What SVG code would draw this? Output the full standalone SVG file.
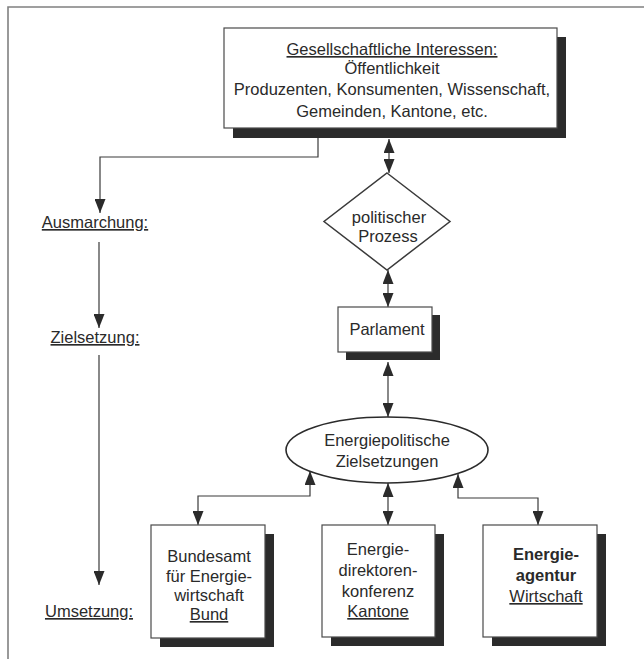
<svg xmlns="http://www.w3.org/2000/svg" width="644" height="659" viewBox="0 0 644 659">
<defs>
<style>
.t{font-family:"Liberation Sans",Arial,sans-serif;font-size:16.5px;fill:#2a2a2a;text-anchor:middle}
.b{font-weight:bold}
.u{text-decoration:underline}
.box{fill:#fff;stroke:#4a4a4a;stroke-width:1.2}
.sh{fill:#2b2b2b}
.ln{fill:none;stroke:#3a3a3a;stroke-width:1.2}
</style>
<marker id="ah" markerUnits="userSpaceOnUse" markerWidth="14" markerHeight="11" refX="14" refY="5.5" orient="auto-start-reverse">
<path d="M0,0 L14,5.5 L0,11 z" fill="#2b2b2b"/>
</marker>
</defs>
<rect width="644" height="659" fill="#fff"/>
<path d="M8,659 V7 H644" fill="none" stroke="#808080" stroke-width="1.6"/>

<g id="connectors">
<polyline class="ln" points="318,138 318,157 100,157 100,213" marker-end="url(#ah)"/>
<line class="ln" x1="99" y1="242" x2="99" y2="328" marker-end="url(#ah)"/>
<line class="ln" x1="99" y1="355" x2="99" y2="585" marker-end="url(#ah)"/>
<line class="ln" x1="389" y1="139" x2="389" y2="173" marker-start="url(#ah)" marker-end="url(#ah)"/>
<line class="ln" x1="388" y1="270" x2="388" y2="307" marker-start="url(#ah)" marker-end="url(#ah)"/>
<line class="ln" x1="388" y1="362" x2="388" y2="417" marker-start="url(#ah)" marker-end="url(#ah)"/>
<line class="ln" x1="388" y1="483" x2="388" y2="525" marker-start="url(#ah)" marker-end="url(#ah)"/>
<polyline class="ln" points="310,471 310,496 198,496 198,525" marker-start="url(#ah)" marker-end="url(#ah)"/>
<polyline class="ln" points="458,474 458,498 538,498 538,525" marker-start="url(#ah)" marker-end="url(#ah)"/>
</g>

<g id="gesellschaft">
<rect class="sh" x="233" y="37" width="333" height="101"/>
<rect class="box" x="224" y="28" width="333" height="100"/>
<text class="t u" x="392" y="55">Gesellschaftliche Interessen:</text>
<text class="t" x="392" y="74">Öffentlichkeit</text>
<text class="t" x="392" y="95">Produzenten, Konsumenten, Wissenschaft,</text>
<text class="t" x="392" y="117">Gemeinden, Kantone, etc.</text>
</g>

<g id="ausmarchung"><text class="t u" x="95" y="228">Ausmarchung:</text></g>
<g id="zielsetzung"><text class="t u" x="95" y="343">Zielsetzung:</text></g>
<g id="umsetzung"><text class="t u" x="89" y="617">Umsetzung:</text></g>

<g id="prozess">
<polygon points="387,173 450,221.5 387,270 324,221.5" fill="#fff" stroke="#3a3a3a" stroke-width="1.5"/>
<text class="t" x="389" y="223">politischer</text>
<text class="t" x="388" y="242">Prozess</text>
</g>

<g id="parlament">
<rect class="sh" x="346" y="315" width="94" height="45"/>
<rect class="box" x="338" y="307" width="94" height="45"/>
<text class="t" x="387" y="335">Parlament</text>
</g>

<g id="ziele">
<ellipse cx="387" cy="450" rx="101" ry="33" fill="#fff" stroke="#2b2b2b" stroke-width="1.6"/>
<text class="t" x="387" y="446">Energiepolitische</text>
<text class="t" x="387" y="467">Zielsetzungen</text>
</g>

<g id="bundesamt">
<rect class="sh" x="160" y="534" width="114" height="113"/>
<rect class="box" x="151" y="525" width="114" height="113"/>
<text class="t" x="209" y="562">Bundesamt</text>
<text class="t" x="209" y="582">für Energie-</text>
<text class="t" x="209" y="601">wirtschaft</text>
<text class="t u" x="209" y="620">Bund</text>
</g>

<g id="kantone">
<rect class="sh" x="331" y="534" width="113" height="112"/>
<rect class="box" x="322" y="525" width="113" height="112"/>
<text class="t" x="378" y="555">Energie-</text>
<text class="t" x="378" y="576">direktoren-</text>
<text class="t" x="378" y="597">konferenz</text>
<text class="t u" x="378" y="617">Kantone</text>
</g>

<g id="agentur">
<rect class="sh" x="492" y="534" width="114" height="112"/>
<rect class="box" x="483" y="525" width="114" height="112"/>
<text class="t b" x="546" y="560">Energie-</text>
<text class="t b" x="546" y="581">agentur</text>
<text class="t u" x="546" y="602">Wirtschaft</text>
</g>
</svg>
